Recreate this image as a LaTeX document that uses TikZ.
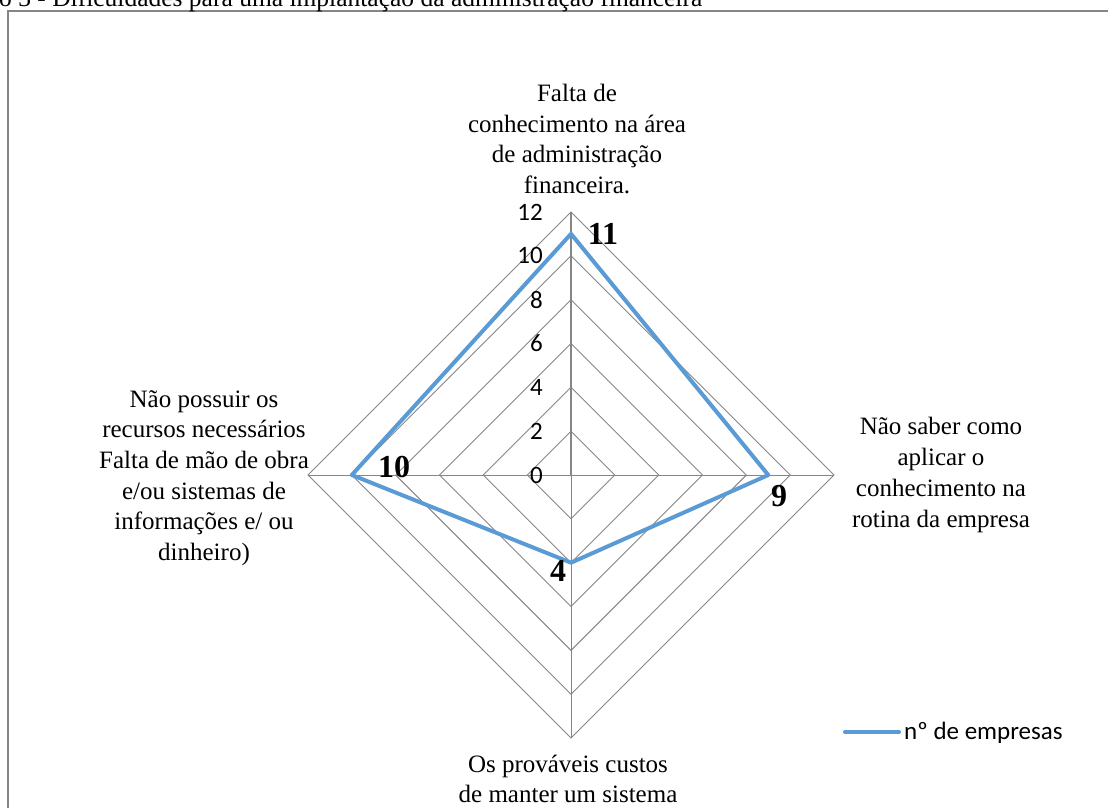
\documentclass[tikz,border=0pt]{standalone}
\usepackage{fontspec}
\setmainfont{Liberation Serif}
\newfontfamily\calfont{Carlito}
\definecolor{gridgray}{RGB}{134,134,134}
\definecolor{serblue}{RGB}{91,155,213}
\begin{document}
\begin{tikzpicture}[x=1pt,y=-1pt,
  gridline/.style={draw=gridgray, line width=0.9pt},
  valaxis/.style={draw=gridgray, line width=1.8pt},
  series/.style={draw=serblue, line width=4pt, line join=round},
  cat/.style={font=\fontsize{25}{30.7}\selectfont, align=center, inner sep=0pt},
  ticklab/.style={font=\calfont\fontsize{25}{28}\selectfont, anchor=east, inner sep=0pt},
  dlab/.style={font=\fontsize{32}{34}\selectfont\bfseries, inner sep=0pt},
  frame/.style={draw=gridgray, line width=1.5pt}]
\useasboundingbox (0,0) rectangle (1108,807);
\def\u{21.92}
% frame (extends past the page on right and bottom)
\draw[frame] (8,830) -- (8,11) -- (1130,11);
% title (cut by the page edge, as in the reference)
\node[anchor=base west, inner sep=0pt, font=\fontsize{25.5}{26}\selectfont] (title) at (-1,6) {o 3 - Dificuldades para uma implantação da administração financeira};
% centre and axis ends
\coordinate (c) at (571,475);
\coordinate (top) at (571,{475-12*\u});
\coordinate (right) at ({571+12*\u},475);
\coordinate (bottom) at (571,{475+12*\u});
\coordinate (left) at ({571-12*\u},475);
% grid diamonds
\foreach \k in {2,4,...,12}{
  \draw[gridline] (571,{475-\k*\u}) -- ({571+\k*\u},475) -- (571,{475+\k*\u}) -- ({571-\k*\u},475) -- cycle;
}
% spokes
\draw[gridline] (c) -- (right);
\draw[gridline] (c) -- (bottom);
\draw[gridline] (c) -- (left);
\draw[valaxis] (c) -- (top);
% tick labels
\foreach \k in {0,2,...,12}{
  \node[ticklab] (t\k) at (543,{475-\k*\u}) {\k};
}
% data series
\coordinate (p1) at (571,{475-11*\u});
\coordinate (p2) at ({571+9*\u},475);
\coordinate (p3) at (571,{475+4*\u});
\coordinate (p4) at ({571-10*\u},475);
\draw[series] (p1) -- (p2) -- (p3) -- (p4) -- cycle;
% data labels
\node[dlab] (d1) at (603,234) {11};
\node[dlab] (d2) at (779,496) {9};
\node[dlab] (d3) at (558,571) {4};
\node[dlab] (d4) at (394,467) {10};
% category labels
\node[cat] (ctop) at (577,139) {Falta de\\conhecimento na área\\de administração\\financeira.};
\node[cat] (cright) at (941,475) {Não saber como\\aplicar o\\conhecimento na\\rotina da empresa};
\node[cat] (cleft) at (204,478) {Não possuir os\\recursos necessários\\Falta de mão de obra\\e/ou sistemas de\\informações e/ ou\\dinheiro)};
\node[cat] (cbottom) at (568,779) {Os prováveis custos\\de manter um sistema};
% legend
\coordinate (l1) at (845,732);
\coordinate (l2) at (899,732);
\draw[series, line cap=round] (l1) -- (l2);
\node[anchor=west, inner sep=0pt, font=\calfont\fontsize{25}{28}\selectfont] (leg) at (904,733) {nº de empresas};
\end{tikzpicture}
\end{document}
